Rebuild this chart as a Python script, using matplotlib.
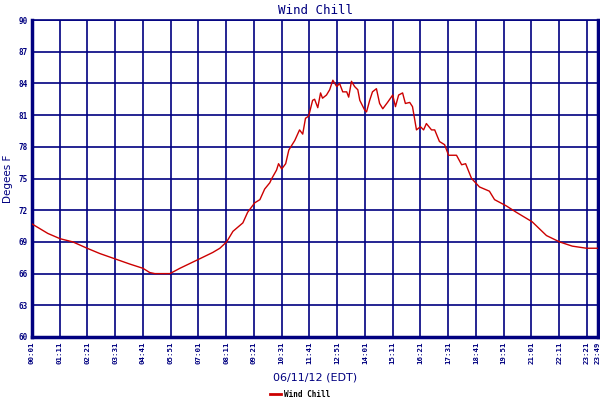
import matplotlib
matplotlib.use("Agg")
import matplotlib.pyplot as plt
import matplotlib.transforms as mtransforms

# minutes after midnight and wind chill values (deg F)
minutes = [1, 41, 72, 104, 140, 172, 210, 248, 281, 298, 311, 349, 374, 424, 457,
           475, 492, 508, 533, 545, 563, 576, 588, 601, 606, 618, 623, 631, 641,
           649, 664, 676, 684, 691, 699, 709, 714, 722, 729, 734, 744, 752, 760,
           765, 770, 777, 785, 795, 800, 807, 815, 823, 828, 840, 845, 853, 860,
           870, 878, 886, 898, 911, 918, 926, 936, 943, 954, 961, 971, 981, 989,
           996, 1009, 1017, 1029, 1042, 1052, 1072, 1085, 1095, 1110, 1130, 1155,
           1168, 1198, 1223, 1263, 1299, 1332, 1364, 1400, 1427]
wind_chill = [70.7, 69.8, 69.3, 69.0, 68.4, 67.9, 67.4, 66.9, 66.5, 66.1, 66.0, 66.0,
              66.5, 67.4, 68.0, 68.4, 69.0, 70.0, 70.8, 71.8, 72.7, 73.0, 74.0, 74.6,
              75.0, 75.8, 76.4, 75.9, 76.4, 77.7, 78.6, 79.6, 79.2, 80.7, 80.9, 82.4,
              82.5, 81.7, 83.1, 82.6, 82.9, 83.4, 84.3, 84.0, 83.7, 84.0, 83.2, 83.2,
              82.7, 84.2, 83.7, 83.4, 82.4, 81.5, 81.3, 82.4, 83.2, 83.5, 82.1, 81.6,
              82.2, 82.9, 81.8, 82.9, 83.1, 82.1, 82.2, 81.8, 79.6, 79.9, 79.6, 80.2,
              79.6, 79.6, 78.5, 78.2, 77.2, 77.2, 76.3, 76.4, 75.0, 74.2, 73.8, 73.0,
              72.4, 71.8, 70.9, 69.6, 69.0, 68.6, 68.4, 68.4]

tick_minutes = [1, 71, 141, 211, 281, 351, 421, 491, 561, 631, 701, 771, 841, 911,
                981, 1051, 1121, 1191, 1261, 1331, 1401, 1429]
tick_labels = ["00:01", "01:11", "02:21", "03:31", "04:41", "05:51", "07:01", "08:11",
               "09:21", "10:31", "11:41", "12:51", "14:01", "15:11", "16:21", "17:31",
               "18:41", "19:51", "21:01", "22:11", "23:21", "23:49"]
y_ticks = [60, 63, 66, 69, 72, 75, 78, 81, 84, 87, 90]

navy = "#000080"
fig = plt.figure(figsize=(6, 4), dpi=100)
ax = fig.add_axes([32/600, 63/400, 566/600, 317/400])

line, = ax.plot(minutes, wind_chill, color="#cc0000", lw=1.0, label="Wind Chill", zorder=3)

ax.set_xlim(1, 1429)
ax.set_ylim(60, 90)
ax.set_xticks(tick_minutes)
ax.set_xticklabels(tick_labels, rotation=90, fontsize=5.3, fontweight="bold",
                   family="DejaVu Sans Mono", color=navy)
labels = ax.get_xticklabels()
labels[-1].set_transform(labels[-1].get_transform() +
                         mtransforms.ScaledTranslation(-3.5/100, 0, fig.dpi_scale_trans))
labels[-2].set_transform(labels[-2].get_transform() +
                         mtransforms.ScaledTranslation(-1.5/100, 0, fig.dpi_scale_trans))
ax.set_yticks(y_ticks)
ax.set_yticklabels([str(v) for v in y_ticks], fontsize=5.5, fontweight="bold",
                   family="DejaVu Sans Mono", color=navy)
ax.tick_params(length=0, pad=3)
ax.grid(True, color=navy, lw=1.2)
ax.set_axisbelow(True)
for side in ["left", "right", "bottom"]:
    ax.spines[side].set_color(navy)
    ax.spines[side].set_linewidth(2.5)
ax.spines["top"].set_color(navy)
ax.spines["top"].set_linewidth(1.2)

ax.set_title("Wind Chill", color=navy, fontsize=9, family="DejaVu Sans Mono", pad=4)
ax.set_xlabel("06/11/12 (EDT)", color=navy, fontsize=8, labelpad=6)
ax.set_ylabel("Degees F", color=navy, fontsize=7.5, labelpad=4)

fig.legend(handles=[line], loc="lower center", bbox_to_anchor=(0.5, -0.015),
           frameon=False, prop={"family": "DejaVu Sans Mono", "size": 5.5, "weight": "bold"},
           handlelength=1.5, handletextpad=0.4)
for h in fig.legends[0].get_lines():
    h.set_linewidth(2)

fig.savefig("out.png", dpi=100)
